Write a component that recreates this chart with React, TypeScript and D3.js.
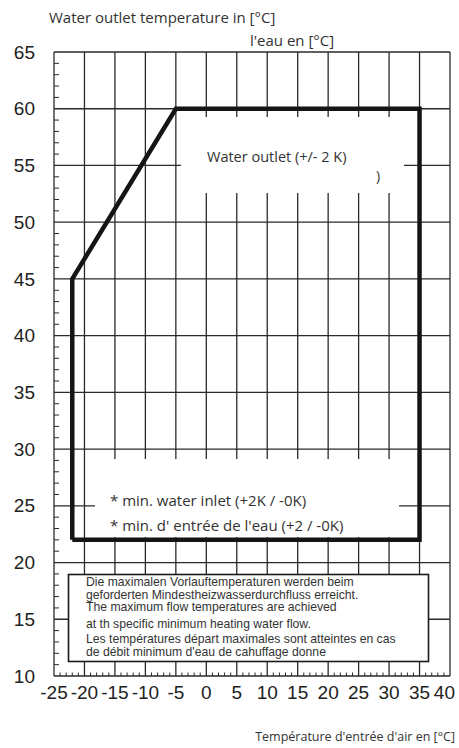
import React from 'react';
import * as d3 from 'd3';

// Axis ranges / ticks
const xTicks = [-25, -20, -15, -10, -5, 0, 5, 10, 15, 20, 25, 30, 35, 40];
const yTicks = [10, 15, 20, 25, 30, 35, 40, 45, 50, 55, 60, 65];

// Operating envelope: air inlet temp [°C] vs water outlet temp [°C]
const envelopeAir = [-22, -22, -5, 35, 35, -22];
const envelopeWater = [22, 45, 60, 60, 22, 22];

const noteLines = [
  'Die maximalen Vorlauftemperaturen werden beim',
  'geforderten Mindestheizwasserdurchfluss erreicht.',
  'The maximum flow temperatures are achieved',
  'at th specific minimum heating water flow.',
  'Les températures départ maximales sont atteintes en cas',
  'de débit minimum d\'eau de cahuffage donne',
];
const noteGaps = [0, 12.5, 12.5, 16.5, 15, 13];

const W = 459;
const H = 748;

const App: React.FC = () => {
  const x = d3.scaleLinear().domain([-25, 40]).range([54, 450]);
  const y = d3.scaleLinear().domain([10, 65]).range([676, 52]);

  const minorY = d3.range(10, 65, 1).filter((v) => v % 5 !== 0);
  const minorX = d3.range(-25, 40, 1).filter((v) => v % 5 !== 0);

  const pts = envelopeAir.map((a, i) => [a, envelopeWater[i]] as [number, number]);
  const line = d3.line<[number, number]>().x((d) => x(d[0])).y((d) => y(d[1]));

  const grid = '#2a2a2a';
  let noteY = 582;

  return (
    <div style={{ position: 'absolute', left: 0, top: 0 }}>
      <svg width={W} height={H} style={{ display: 'block', background: '#fff' }}>
        {/* grid */}
        <g stroke={grid} strokeWidth={1.3}>
          {xTicks.map((t) => (
            <line key={'vx' + t} x1={x(t)} x2={x(t)} y1={y(65)} y2={y(10)} />
          ))}
          {yTicks.map((t) => (
            <line key={'hy' + t} x1={x(-25)} x2={x(40)} y1={y(t)} y2={y(t)} />
          ))}
          {minorY.map((t) => (
            <line key={'my' + t} x1={x(-25)} x2={x(-25) + 5} y1={y(t)} y2={y(t)} strokeWidth={1} />
          ))}
          {minorX.map((t) => (
            <line key={'mx' + t} x1={x(t)} x2={x(t)} y1={y(10)} y2={y(10) - 3.5} strokeWidth={1} />
          ))}
        </g>

        {/* white label areas masking the grid */}
        <rect x={181} y={117} width={223} height={76} fill="#fff" />
        <rect x={95} y={459} width={304} height={78} fill="#fff" />

        {/* envelope */}
        <path d={line(pts) || undefined} fill="none" stroke="#151515" strokeWidth={4.5} strokeLinejoin="miter" />

        {/* note box */}
        <rect x={68.5} y={574.5} width={360} height={87} fill="#fff" stroke="#1a1a1a" strokeWidth={1.6} />
        <g fontFamily="'Liberation Sans', Arial, sans-serif" fontSize={12.2} fill="#333">
          {noteLines.map((s, i) => {
            noteY += noteGaps[i];
            return (
              <text key={i} x={86} y={noteY + 4}>
                {s}
              </text>
            );
          })}
        </g>

        {/* tick labels */}
        <g fontFamily="'Liberation Sans', Arial, sans-serif" fontSize={19} fill="#222">
          {yTicks.map((t) => (
            <text key={'yl' + t} x={35} y={y(t)} dy="0.35em" textAnchor="end">
              {t}
            </text>
          ))}
          {xTicks.map((t, i) => (
            <text
              key={'xl' + t}
              x={i === xTicks.length - 1 ? 455 : x(t)}
              y={699}
              textAnchor={i === xTicks.length - 1 ? 'end' : 'middle'}
            >
              {t}
            </text>
          ))}
        </g>

        {/* titles and annotations */}
        <g fontFamily="'Open Sans', sans-serif" fill="#333">
          <text x={49} y={23} fontSize={15}>Water outlet temperature in [°C]</text>
          <text x={250} y={46} fontSize={15}>l'eau en [°C]</text>
          <text x={455} y={741} fontSize={12.5} textAnchor="end">Température d'entrée d'air en [°C]</text>
          <text x={207} y={162} fontSize={14.5}>Water outlet (+/- 2 K)</text>
          <text x={376} y={181} fontSize={14}>)</text>
          <text x={110} y={506} fontSize={15}>* min. water inlet (+2K / -0K)</text>
          <text x={110} y={531} fontSize={15}>* min. d' entrée de l'eau (+2 / -0K)</text>
        </g>
      </svg>
    </div>
  );
};

export default App;
